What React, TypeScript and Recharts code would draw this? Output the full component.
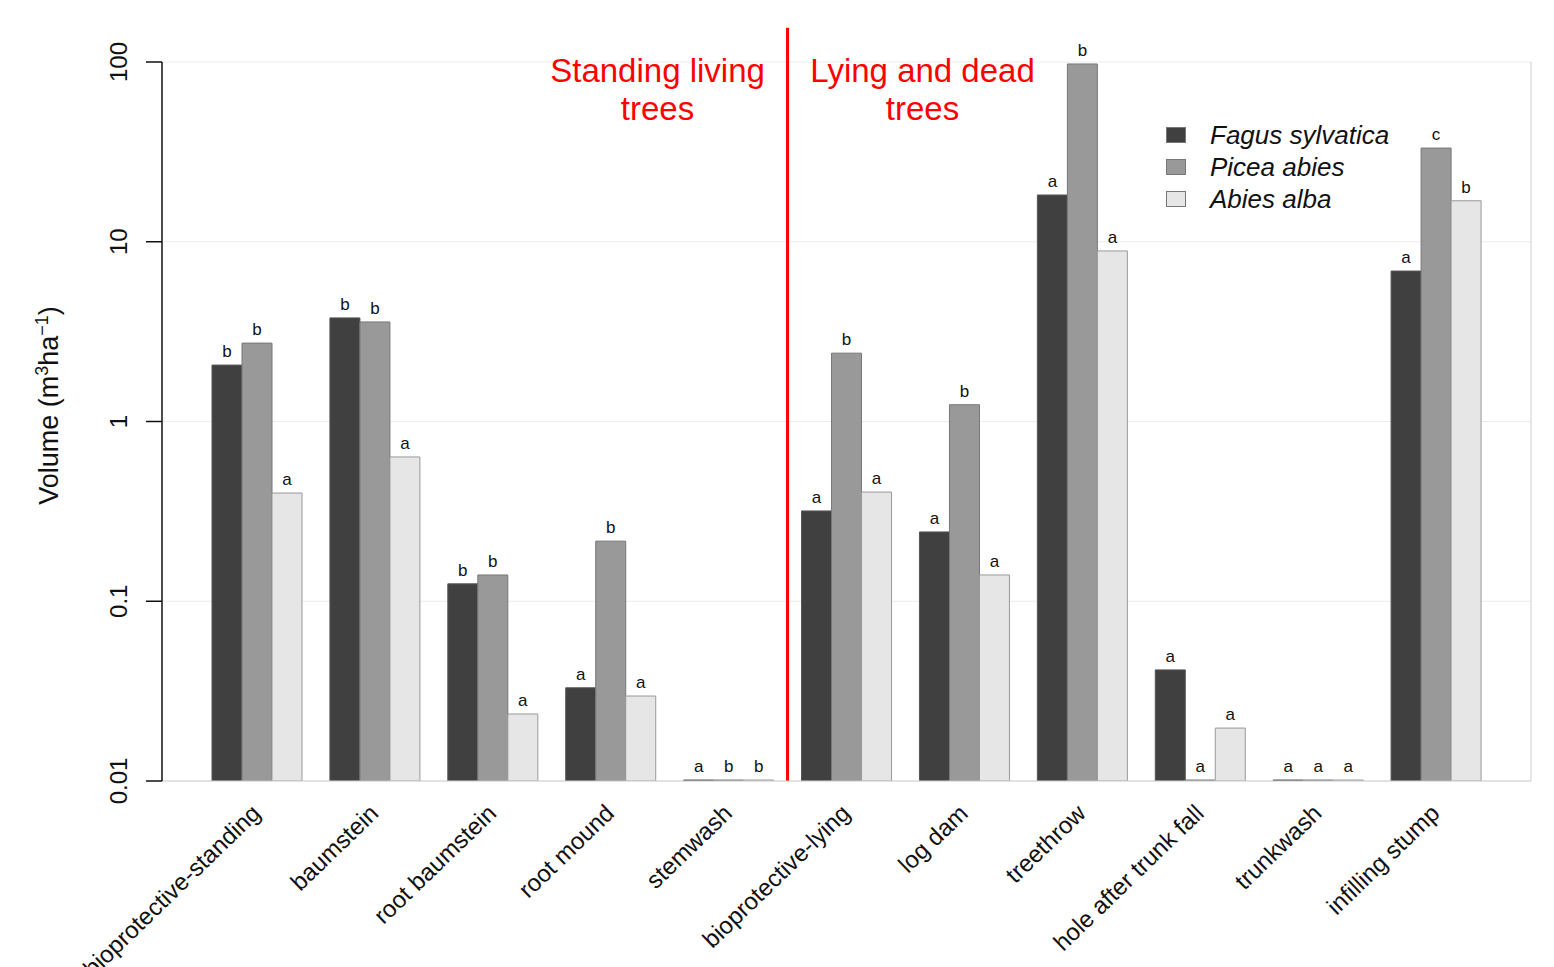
import { BarChart, Bar, XAxis, YAxis, CartesianGrid, Legend, LabelList, ReferenceLine } from 'recharts';

// categories along the x axis
const categories = [
  'bioprotective-standing',
  'baumstein',
  'root baumstein',
  'root mound',
  'stemwash',
  'bioprotective-lying',
  'log dam',
  'treethrow',
  'hole after trunk fall',
  'trunkwash',
  'infilling stump',
];

const seriesNames = ['Fagus sylvatica', 'Picea abies', 'Abies alba'];

// volumes in m3/ha (0.01 = at the axis floor, i.e. nothing)
const fagus = [2.06, 3.77, 0.125, 0.033, 0.01, 0.318, 0.243, 18.2, 0.0415, 0.01, 6.87];
const picea = [2.73, 3.58, 0.14, 0.216, 0.01, 2.4, 1.24, 97.5, 0.01, 0.01, 33.2];
const abies = [0.4, 0.635, 0.0236, 0.0297, 0.01, 0.405, 0.14, 8.89, 0.0197, 0.01, 16.9];

// significance letters above the bars
const fagusLetters = ['b', 'b', 'b', 'a', 'a', 'a', 'a', 'a', 'a', 'a', 'a'];
const piceaLetters = ['b', 'b', 'b', 'b', 'b', 'b', 'b', 'b', 'a', 'a', 'c'];
const abiesLetters = ['a', 'a', 'a', 'a', 'b', 'a', 'a', 'a', 'a', 'a', 'b'];

const yTicks = [0.01, 0.1, 1, 10, 100];
const yTickLabels = ['0.01', '0.1', '1', '10', '100'];

const data = categories.map((name, i) => ({
  name,
  fagus: fagus[i],
  picea: picea[i],
  abies: abies[i],
  fagusLetter: fagusLetters[i],
  piceaLetter: piceaLetters[i],
  abiesLetter: abiesLetters[i],
}));

const FONT = '"Liberation Sans", Arial, Helvetica, sans-serif';

const XTick = ({ x, y, payload }: any) => {
  const tx = x + 5;
  const ty = y + 34;
  return (
    <text x={tx} y={ty} textAnchor="end" fontSize={24} fill="#111" fontFamily={FONT} transform={`rotate(-44, ${tx}, ${ty})`}>
      {payload.value}
    </text>
  );
};

const YTick = ({ x, y, payload }: any) => {
  const idx = yTicks.indexOf(payload.value);
  const tx = x - 19;
  return (
    <text x={tx} y={y} textAnchor="middle" fontSize={24} fill="#111" fontFamily={FONT} transform={`rotate(-90, ${tx}, ${y})`}>
      {idx >= 0 ? yTickLabels[idx] : payload.value}
    </text>
  );
};

const YLabel = ({ viewBox }: any) => {
  const tx = viewBox.x + 50;
  const ty = viewBox.y + viewBox.height / 2 - 16;
  return (
    <text x={tx} y={ty} textAnchor="middle" fontSize={27} fill="#111" fontFamily={FONT} transform={`rotate(-90, ${tx}, ${ty})`}>
      Volume (m
      <tspan fontSize={18} dy={-10}>3</tspan>
      <tspan dy={10}>ha</tspan>
      <tspan fontSize={18} dy={-10}>−1</tspan>
      <tspan dy={10}>)</tspan>
    </text>
  );
};

const SectionLabels = ({ viewBox }: any) => {
  const x = viewBox.x;
  const y = viewBox.y;
  const style = { fontSize: 33, fill: '#ff0000', fontFamily: FONT };
  return (
    <g>
      <text x={x - 130} y={y + 54} textAnchor="middle" {...style}>Standing living</text>
      <text x={x - 130} y={y + 92} textAnchor="middle" {...style}>trees</text>
      <text x={x + 135} y={y + 54} textAnchor="middle" {...style}>Lying and dead</text>
      <text x={x + 135} y={y + 92} textAnchor="middle" {...style}>trees</text>
    </g>
  );
};

const LegendBox = ({ payload }: any) => {
  const items = seriesNames
    .map((n) => (payload || []).find((p: any) => p.value === n))
    .filter(Boolean);
  return (
    <div style={{ fontFamily: FONT }}>
      {items.map((p: any) => (
        <div key={p.value} style={{ display: 'flex', alignItems: 'center', height: 32 }}>
          <div style={{ width: 20, height: 16, boxSizing: 'border-box', background: p.color, border: '1px solid #777', marginRight: 24 }} />
          <span style={{ fontSize: 26, fontStyle: 'italic', color: '#111', whiteSpace: 'nowrap' }}>{p.value}</span>
        </div>
      ))}
    </div>
  );
};

export default function App() {
  return (
    <BarChart
      width={1546}
      height={959}
      data={data}
      margin={{ top: 54, right: 22, left: 0, bottom: 0 }}
      barGap={0}
      barSize={30}
      style={{ fontFamily: FONT }}
    >
      <CartesianGrid vertical={false} stroke="#ececec" yAxisId="left" />
      <XAxis
        dataKey="name"
        interval={0}
        height={186}
        padding={{ left: 36, right: 36 }}
        tick={<XTick />}
        tickLine={false}
        tickSize={0}
        tickMargin={0}
        axisLine={{ stroke: '#cfcfcf' }}
      />
      <YAxis
        yAxisId="left"
        scale="log"
        domain={[0.01, 100]}
        ticks={yTicks}
        allowDataOverflow
        width={154}
        tickSize={16}
        tickMargin={0}
        tick={<YTick />}
        axisLine={{ stroke: '#111', strokeWidth: 1.5 }}
        tickLine={{ stroke: '#111', strokeWidth: 1.5 }}
        label={<YLabel />}
      />
      <YAxis
        yAxisId="right"
        orientation="right"
        scale="log"
        domain={[0.01, 100]}
        allowDataOverflow
        width={1}
        tick={false}
        tickLine={false}
        axisLine={{ stroke: '#cfcfcf' }}
      />
      <Legend
        verticalAlign="middle"
        align="center"
        layout="vertical"
        content={<LegendBox />}
        wrapperStyle={{ top: 111, left: 1158, width: 300 }}
      />
      <Bar yAxisId="left" dataKey="fagus" name={seriesNames[0]} fill="#404040" stroke="#555" minPointSize={1} isAnimationActive={false}>
        <LabelList dataKey="fagusLetter" position="top" offset={8} fontSize={17} fill="#111" />
      </Bar>
      <Bar yAxisId="left" dataKey="picea" name={seriesNames[1]} fill="#999999" stroke="#777" minPointSize={1} isAnimationActive={false}>
        <LabelList dataKey="piceaLetter" position="top" offset={8} fontSize={17} fill="#111" />
      </Bar>
      <Bar yAxisId="left" dataKey="abies" name={seriesNames[2]} fill="#e6e6e6" stroke="#999" minPointSize={1} isAnimationActive={false}>
        <LabelList dataKey="abiesLetter" position="top" offset={8} fontSize={17} fill="#111" />
      </Bar>
      <ReferenceLine
        yAxisId="left"
        segment={[
          { x: categories[5], y: 0.01 },
          { x: categories[5], y: 155 },
        ]}
        position="start"
        ifOverflow="visible"
        stroke="#ff0000"
        strokeWidth={3}
        label={<SectionLabels />}
      />
    </BarChart>
  );
}
